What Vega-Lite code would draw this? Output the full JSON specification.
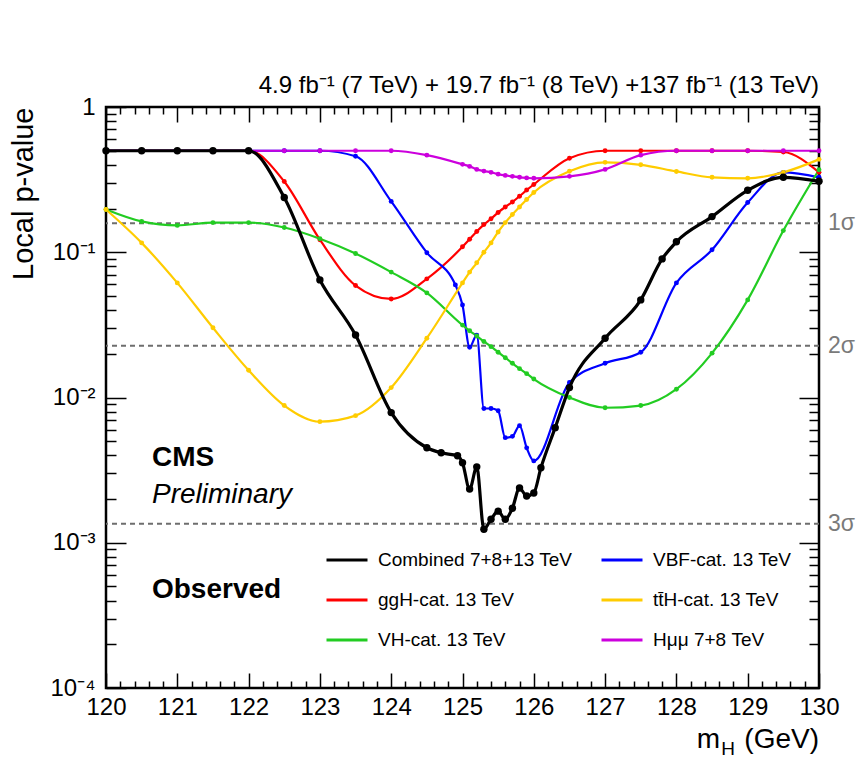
{
  "$schema": "https://vega.github.io/schema/vega-lite/v6.json",
  "width": 713,
  "height": 581,
  "autosize": "none",
  "padding": {"left": 106, "top": 107, "right": 37, "bottom": 70},
  "background": "white",
  "config": {
    "font": "Liberation Sans",
    "view": {"stroke": "black", "strokeWidth": 2.5},
    "axis": {"grid": false, "domain": false, "tickColor": "black", "tickWidth": 1.5, "labelColor": "black", "titleColor": "black", "labelFlush": false, "labelOverlap": false}
  },
  "title": {
    "text": "4.9 fb⁻¹ (7 TeV) + 19.7 fb⁻¹ (8 TeV) +137 fb⁻¹ (13 TeV)",
    "anchor": "end",
    "frame": "group",
    "orient": "top",
    "offset": -3,
    "fontSize": 24,
    "fontWeight": "normal",
    "color": "black"
  },
  "datasets": {
    "curves": [
      {"s": "Combined 7+8+13 TeV", "m": 120.0, "p": 0.5},
      {"s": "Combined 7+8+13 TeV", "m": 120.5, "p": 0.5},
      {"s": "Combined 7+8+13 TeV", "m": 121.0, "p": 0.5},
      {"s": "Combined 7+8+13 TeV", "m": 121.5, "p": 0.5},
      {"s": "Combined 7+8+13 TeV", "m": 122.0, "p": 0.5},
      {"s": "Combined 7+8+13 TeV", "m": 122.5, "p": 0.238},
      {"s": "Combined 7+8+13 TeV", "m": 123.0, "p": 0.0645},
      {"s": "Combined 7+8+13 TeV", "m": 123.5, "p": 0.0269},
      {"s": "Combined 7+8+13 TeV", "m": 124.0, "p": 0.00787},
      {"s": "Combined 7+8+13 TeV", "m": 124.5, "p": 0.00451},
      {"s": "Combined 7+8+13 TeV", "m": 124.7, "p": 0.00416},
      {"s": "Combined 7+8+13 TeV", "m": 124.93, "p": 0.00397},
      {"s": "Combined 7+8+13 TeV", "m": 125.0, "p": 0.00355},
      {"s": "Combined 7+8+13 TeV", "m": 125.1, "p": 0.00234},
      {"s": "Combined 7+8+13 TeV", "m": 125.2, "p": 0.00333},
      {"s": "Combined 7+8+13 TeV", "m": 125.3, "p": 0.00124},
      {"s": "Combined 7+8+13 TeV", "m": 125.4, "p": 0.00145},
      {"s": "Combined 7+8+13 TeV", "m": 125.5, "p": 0.00165},
      {"s": "Combined 7+8+13 TeV", "m": 125.6, "p": 0.00145},
      {"s": "Combined 7+8+13 TeV", "m": 125.7, "p": 0.00173},
      {"s": "Combined 7+8+13 TeV", "m": 125.8, "p": 0.00238},
      {"s": "Combined 7+8+13 TeV", "m": 125.9, "p": 0.0021},
      {"s": "Combined 7+8+13 TeV", "m": 126.0, "p": 0.0022},
      {"s": "Combined 7+8+13 TeV", "m": 126.1, "p": 0.00328},
      {"s": "Combined 7+8+13 TeV", "m": 126.3, "p": 0.0062},
      {"s": "Combined 7+8+13 TeV", "m": 126.5, "p": 0.0117},
      {"s": "Combined 7+8+13 TeV", "m": 127.0, "p": 0.0256},
      {"s": "Combined 7+8+13 TeV", "m": 127.5, "p": 0.047},
      {"s": "Combined 7+8+13 TeV", "m": 127.8, "p": 0.09},
      {"s": "Combined 7+8+13 TeV", "m": 128.0, "p": 0.118},
      {"s": "Combined 7+8+13 TeV", "m": 128.5, "p": 0.176},
      {"s": "Combined 7+8+13 TeV", "m": 129.0, "p": 0.267},
      {"s": "Combined 7+8+13 TeV", "m": 129.5, "p": 0.328},
      {"s": "Combined 7+8+13 TeV", "m": 130.0, "p": 0.308},

      {"s": "ggH-cat. 13 TeV", "m": 120.0, "p": 0.5},
      {"s": "ggH-cat. 13 TeV", "m": 120.5, "p": 0.5},
      {"s": "ggH-cat. 13 TeV", "m": 121.0, "p": 0.5},
      {"s": "ggH-cat. 13 TeV", "m": 121.5, "p": 0.5},
      {"s": "ggH-cat. 13 TeV", "m": 122.0, "p": 0.5},
      {"s": "ggH-cat. 13 TeV", "m": 122.5, "p": 0.307},
      {"s": "ggH-cat. 13 TeV", "m": 123.0, "p": 0.122},
      {"s": "ggH-cat. 13 TeV", "m": 123.5, "p": 0.059},
      {"s": "ggH-cat. 13 TeV", "m": 124.0, "p": 0.0477},
      {"s": "ggH-cat. 13 TeV", "m": 124.5, "p": 0.0656},
      {"s": "ggH-cat. 13 TeV", "m": 125.0, "p": 0.109},
      {"s": "ggH-cat. 13 TeV", "m": 125.1, "p": 0.123},
      {"s": "ggH-cat. 13 TeV", "m": 125.2, "p": 0.139},
      {"s": "ggH-cat. 13 TeV", "m": 125.3, "p": 0.155},
      {"s": "ggH-cat. 13 TeV", "m": 125.4, "p": 0.17},
      {"s": "ggH-cat. 13 TeV", "m": 125.5, "p": 0.188},
      {"s": "ggH-cat. 13 TeV", "m": 125.6, "p": 0.205},
      {"s": "ggH-cat. 13 TeV", "m": 125.7, "p": 0.222},
      {"s": "ggH-cat. 13 TeV", "m": 125.8, "p": 0.243},
      {"s": "ggH-cat. 13 TeV", "m": 125.9, "p": 0.268},
      {"s": "ggH-cat. 13 TeV", "m": 126.0, "p": 0.293},
      {"s": "ggH-cat. 13 TeV", "m": 126.5, "p": 0.444},
      {"s": "ggH-cat. 13 TeV", "m": 127.0, "p": 0.5},
      {"s": "ggH-cat. 13 TeV", "m": 127.5, "p": 0.5},
      {"s": "ggH-cat. 13 TeV", "m": 128.0, "p": 0.5},
      {"s": "ggH-cat. 13 TeV", "m": 128.5, "p": 0.5},
      {"s": "ggH-cat. 13 TeV", "m": 129.0, "p": 0.5},
      {"s": "ggH-cat. 13 TeV", "m": 129.5, "p": 0.49},
      {"s": "ggH-cat. 13 TeV", "m": 130.0, "p": 0.355},

      {"s": "VBF-cat. 13 TeV", "m": 120.0, "p": 0.5},
      {"s": "VBF-cat. 13 TeV", "m": 120.5, "p": 0.5},
      {"s": "VBF-cat. 13 TeV", "m": 121.0, "p": 0.5},
      {"s": "VBF-cat. 13 TeV", "m": 121.5, "p": 0.5},
      {"s": "VBF-cat. 13 TeV", "m": 122.0, "p": 0.5},
      {"s": "VBF-cat. 13 TeV", "m": 122.5, "p": 0.5},
      {"s": "VBF-cat. 13 TeV", "m": 123.0, "p": 0.5},
      {"s": "VBF-cat. 13 TeV", "m": 123.5, "p": 0.458},
      {"s": "VBF-cat. 13 TeV", "m": 124.0, "p": 0.224},
      {"s": "VBF-cat. 13 TeV", "m": 124.5, "p": 0.0993},
      {"s": "VBF-cat. 13 TeV", "m": 124.9, "p": 0.0596},
      {"s": "VBF-cat. 13 TeV", "m": 125.0, "p": 0.0433},
      {"s": "VBF-cat. 13 TeV", "m": 125.1, "p": 0.0222},
      {"s": "VBF-cat. 13 TeV", "m": 125.2, "p": 0.0269},
      {"s": "VBF-cat. 13 TeV", "m": 125.3, "p": 0.0084},
      {"s": "VBF-cat. 13 TeV", "m": 125.4, "p": 0.0084},
      {"s": "VBF-cat. 13 TeV", "m": 125.5, "p": 0.0081},
      {"s": "VBF-cat. 13 TeV", "m": 125.6, "p": 0.00529},
      {"s": "VBF-cat. 13 TeV", "m": 125.7, "p": 0.0054},
      {"s": "VBF-cat. 13 TeV", "m": 125.8, "p": 0.0064},
      {"s": "VBF-cat. 13 TeV", "m": 125.9, "p": 0.0045},
      {"s": "VBF-cat. 13 TeV", "m": 126.0, "p": 0.00366},
      {"s": "VBF-cat. 13 TeV", "m": 126.5, "p": 0.0127},
      {"s": "VBF-cat. 13 TeV", "m": 127.0, "p": 0.0172},
      {"s": "VBF-cat. 13 TeV", "m": 127.5, "p": 0.0205},
      {"s": "VBF-cat. 13 TeV", "m": 128.0, "p": 0.0615},
      {"s": "VBF-cat. 13 TeV", "m": 128.5, "p": 0.104},
      {"s": "VBF-cat. 13 TeV", "m": 129.0, "p": 0.22},
      {"s": "VBF-cat. 13 TeV", "m": 129.5, "p": 0.355},
      {"s": "VBF-cat. 13 TeV", "m": 130.0, "p": 0.328},

      {"s": "VH-cat. 13 TeV", "m": 120.0, "p": 0.197},
      {"s": "VH-cat. 13 TeV", "m": 120.5, "p": 0.163},
      {"s": "VH-cat. 13 TeV", "m": 121.0, "p": 0.153},
      {"s": "VH-cat. 13 TeV", "m": 121.5, "p": 0.16},
      {"s": "VH-cat. 13 TeV", "m": 122.0, "p": 0.16},
      {"s": "VH-cat. 13 TeV", "m": 122.5, "p": 0.148},
      {"s": "VH-cat. 13 TeV", "m": 123.0, "p": 0.124},
      {"s": "VH-cat. 13 TeV", "m": 123.5, "p": 0.098},
      {"s": "VH-cat. 13 TeV", "m": 124.0, "p": 0.073},
      {"s": "VH-cat. 13 TeV", "m": 124.5, "p": 0.0525},
      {"s": "VH-cat. 13 TeV", "m": 125.0, "p": 0.0315},
      {"s": "VH-cat. 13 TeV", "m": 125.1, "p": 0.0288},
      {"s": "VH-cat. 13 TeV", "m": 125.2, "p": 0.0265},
      {"s": "VH-cat. 13 TeV", "m": 125.3, "p": 0.0243},
      {"s": "VH-cat. 13 TeV", "m": 125.4, "p": 0.0224},
      {"s": "VH-cat. 13 TeV", "m": 125.5, "p": 0.0205},
      {"s": "VH-cat. 13 TeV", "m": 125.6, "p": 0.0188},
      {"s": "VH-cat. 13 TeV", "m": 125.7, "p": 0.0172},
      {"s": "VH-cat. 13 TeV", "m": 125.8, "p": 0.0158},
      {"s": "VH-cat. 13 TeV", "m": 125.9, "p": 0.0146},
      {"s": "VH-cat. 13 TeV", "m": 126.0, "p": 0.0134},
      {"s": "VH-cat. 13 TeV", "m": 126.5, "p": 0.01},
      {"s": "VH-cat. 13 TeV", "m": 127.0, "p": 0.0085},
      {"s": "VH-cat. 13 TeV", "m": 127.5, "p": 0.0088},
      {"s": "VH-cat. 13 TeV", "m": 128.0, "p": 0.0114},
      {"s": "VH-cat. 13 TeV", "m": 128.5, "p": 0.0202},
      {"s": "VH-cat. 13 TeV", "m": 129.0, "p": 0.047},
      {"s": "VH-cat. 13 TeV", "m": 129.5, "p": 0.141},
      {"s": "VH-cat. 13 TeV", "m": 130.0, "p": 0.37},

      {"s": "tt̄H-cat. 13 TeV", "m": 120.0, "p": 0.197},
      {"s": "tt̄H-cat. 13 TeV", "m": 120.5, "p": 0.116},
      {"s": "tt̄H-cat. 13 TeV", "m": 121.0, "p": 0.0615},
      {"s": "tt̄H-cat. 13 TeV", "m": 121.5, "p": 0.0302},
      {"s": "tt̄H-cat. 13 TeV", "m": 122.0, "p": 0.0154},
      {"s": "tt̄H-cat. 13 TeV", "m": 122.5, "p": 0.0088},
      {"s": "tt̄H-cat. 13 TeV", "m": 123.0, "p": 0.00682},
      {"s": "tt̄H-cat. 13 TeV", "m": 123.5, "p": 0.0075},
      {"s": "tt̄H-cat. 13 TeV", "m": 124.0, "p": 0.0117},
      {"s": "tt̄H-cat. 13 TeV", "m": 124.5, "p": 0.0256},
      {"s": "tt̄H-cat. 13 TeV", "m": 125.0, "p": 0.0615},
      {"s": "tt̄H-cat. 13 TeV", "m": 125.1, "p": 0.073},
      {"s": "tt̄H-cat. 13 TeV", "m": 125.2, "p": 0.0846},
      {"s": "tt̄H-cat. 13 TeV", "m": 125.3, "p": 0.1},
      {"s": "tt̄H-cat. 13 TeV", "m": 125.4, "p": 0.116},
      {"s": "tt̄H-cat. 13 TeV", "m": 125.5, "p": 0.138},
      {"s": "tt̄H-cat. 13 TeV", "m": 125.6, "p": 0.16},
      {"s": "tt̄H-cat. 13 TeV", "m": 125.7, "p": 0.182},
      {"s": "tt̄H-cat. 13 TeV", "m": 125.8, "p": 0.205},
      {"s": "tt̄H-cat. 13 TeV", "m": 125.9, "p": 0.231},
      {"s": "tt̄H-cat. 13 TeV", "m": 126.0, "p": 0.258},
      {"s": "tt̄H-cat. 13 TeV", "m": 126.5, "p": 0.361},
      {"s": "tt̄H-cat. 13 TeV", "m": 127.0, "p": 0.416},
      {"s": "tt̄H-cat. 13 TeV", "m": 127.5, "p": 0.4},
      {"s": "tt̄H-cat. 13 TeV", "m": 128.0, "p": 0.36},
      {"s": "tt̄H-cat. 13 TeV", "m": 128.5, "p": 0.328},
      {"s": "tt̄H-cat. 13 TeV", "m": 129.0, "p": 0.323},
      {"s": "tt̄H-cat. 13 TeV", "m": 129.5, "p": 0.355},
      {"s": "tt̄H-cat. 13 TeV", "m": 130.0, "p": 0.436},

      {"s": "Hμμ 7+8 TeV", "m": 120.0, "p": 0.5},
      {"s": "Hμμ 7+8 TeV", "m": 120.5, "p": 0.5},
      {"s": "Hμμ 7+8 TeV", "m": 121.0, "p": 0.5},
      {"s": "Hμμ 7+8 TeV", "m": 121.5, "p": 0.5},
      {"s": "Hμμ 7+8 TeV", "m": 122.0, "p": 0.5},
      {"s": "Hμμ 7+8 TeV", "m": 122.5, "p": 0.5},
      {"s": "Hμμ 7+8 TeV", "m": 123.0, "p": 0.5},
      {"s": "Hμμ 7+8 TeV", "m": 123.5, "p": 0.5},
      {"s": "Hμμ 7+8 TeV", "m": 124.0, "p": 0.5},
      {"s": "Hμμ 7+8 TeV", "m": 124.5, "p": 0.466},
      {"s": "Hμμ 7+8 TeV", "m": 125.0, "p": 0.403},
      {"s": "Hμμ 7+8 TeV", "m": 125.1, "p": 0.39},
      {"s": "Hμμ 7+8 TeV", "m": 125.2, "p": 0.372},
      {"s": "Hμμ 7+8 TeV", "m": 125.3, "p": 0.362},
      {"s": "Hμμ 7+8 TeV", "m": 125.4, "p": 0.355},
      {"s": "Hμμ 7+8 TeV", "m": 125.5, "p": 0.345},
      {"s": "Hμμ 7+8 TeV", "m": 125.6, "p": 0.338},
      {"s": "Hμμ 7+8 TeV", "m": 125.7, "p": 0.333},
      {"s": "Hμμ 7+8 TeV", "m": 125.8, "p": 0.328},
      {"s": "Hμμ 7+8 TeV", "m": 125.9, "p": 0.325},
      {"s": "Hμμ 7+8 TeV", "m": 126.0, "p": 0.323},
      {"s": "Hμμ 7+8 TeV", "m": 126.5, "p": 0.333},
      {"s": "Hμμ 7+8 TeV", "m": 127.0, "p": 0.372},
      {"s": "Hμμ 7+8 TeV", "m": 127.5, "p": 0.466},
      {"s": "Hμμ 7+8 TeV", "m": 128.0, "p": 0.5},
      {"s": "Hμμ 7+8 TeV", "m": 128.5, "p": 0.5},
      {"s": "Hμμ 7+8 TeV", "m": 129.0, "p": 0.5},
      {"s": "Hμμ 7+8 TeV", "m": 129.5, "p": 0.5},
      {"s": "Hμμ 7+8 TeV", "m": 130.0, "p": 0.5}
    ],
    "sigma": [
      {"label": "1σ", "p": 0.158655},
      {"label": "2σ", "p": 0.02275},
      {"label": "3σ", "p": 0.0013499}
    ]
  },
  "layer": [
    {
      "data": {"name": "sigma"},
      "mark": {"type": "rule", "color": "#6e6e6e", "strokeWidth": 2, "strokeDash": [5, 4]},
      "encoding": {
        "y": {"field": "p", "type": "quantitative", "scale": {"type": "log", "domain": [0.0001, 1], "nice": false}, "axis": null}
      }
    },
    {
      "data": {"name": "sigma"},
      "mark": {"type": "text", "align": "left", "baseline": "middle", "dx": 9, "fontSize": 23, "color": "#7a7a7a"},
      "encoding": {
        "x": {"datum": 130, "type": "quantitative", "scale": {"domain": [120, 130], "nice": false, "zero": false}, "axis": null},
        "y": {"field": "p", "type": "quantitative", "scale": {"type": "log", "domain": [0.0001, 1], "nice": false}, "axis": null},
        "text": {"field": "label"}
      }
    },
    {
      "data": {"name": "curves"},
      "transform": [{"filter": "datum.s !== 'Combined 7+8+13 TeV'"}],
      "mark": {"type": "line", "interpolate": "monotone", "strokeWidth": 2.2},
      "encoding": {
        "x": {"field": "m", "type": "quantitative", "scale": {"domain": [120, 130], "nice": false, "zero": false},
          "axis": {"orient": "bottom", "values": [120, 121, 122, 123, 124, 125, 126, 127, 128, 129, 130], "tickSize": -15, "labelFontSize": 24, "labelPadding": 22, "format": "d", "title": null}},
        "y": {"field": "p", "type": "quantitative", "scale": {"type": "log", "domain": [0.0001, 1], "nice": false},
          "axis": {"orient": "left", "values": [0.0001, 0.001, 0.01, 0.1, 1], "tickSize": -20, "labelFontSize": 24, "labelPadding": 31,
            "labelExpr": "datum.value >= 0.5 ? '1' : datum.value >= 0.05 ? '10⁻¹' : datum.value >= 0.005 ? '10⁻²' : datum.value >= 0.0005 ? '10⁻³' : '10⁻⁴'",
            "title": "Local p-value", "titleFontSize": 29, "titleFontWeight": "normal", "titleAnchor": "end", "titlePadding": 11}},
        "color": {"field": "s", "type": "nominal",
          "scale": {"domain": ["Combined 7+8+13 TeV", "ggH-cat. 13 TeV", "VH-cat. 13 TeV", "VBF-cat. 13 TeV", "tt̄H-cat. 13 TeV", "Hμμ 7+8 TeV"],
                    "range": ["#000000", "#ff0000", "#22cc22", "#0000ff", "#ffcc00", "#cc00dd"]},
          "legend": {"orient": "none", "legendX": 219, "legendY": 431, "columns": 2, "title": null, "symbolType": "stroke", "symbolSize": 1681, "symbolStrokeWidth": 3, "labelFontSize": 19, "labelLimit": 400, "labelOffset": 9, "columnPadding": 22, "rowPadding": 8, "labelColor": "black"}},
        "detail": {"field": "s"}
      }
    },
    {
      "data": {"name": "curves"},
      "transform": [{"filter": "datum.s !== 'Combined 7+8+13 TeV'"}],
      "mark": {"type": "point", "filled": true, "size": 24, "opacity": 1},
      "encoding": {
        "x": {"field": "m", "type": "quantitative", "scale": {"domain": [120, 130], "nice": false, "zero": false},
          "axis": {"orient": "bottom", "values": [120.2, 120.4, 120.6, 120.8, 121.2, 121.4, 121.6, 121.8, 122.2, 122.4, 122.6, 122.8, 123.2, 123.4, 123.6, 123.8, 124.2, 124.4, 124.6, 124.8, 125.2, 125.4, 125.6, 125.8, 126.2, 126.4, 126.6, 126.8, 127.2, 127.4, 127.6, 127.8, 128.2, 128.4, 128.6, 128.8, 129.2, 129.4, 129.6, 129.8], "tickSize": -7, "labels": false, "title": null}},
        "y": {"field": "p", "type": "quantitative", "scale": {"type": "log", "domain": [0.0001, 1], "nice": false},
          "axis": {"orient": "left", "values": [0.0002, 0.0003, 0.0004, 0.0005, 0.0006, 0.0007, 0.0008, 0.0009, 0.002, 0.003, 0.004, 0.005, 0.006, 0.007, 0.008, 0.009, 0.02, 0.03, 0.04, 0.05, 0.06, 0.07, 0.08, 0.09, 0.2, 0.3, 0.4, 0.5, 0.6, 0.7, 0.8, 0.9], "tickSize": -10, "labels": false, "title": null}},
        "color": {"field": "s", "type": "nominal"}
      }
    },
    {
      "data": {"name": "curves"},
      "transform": [{"filter": "datum.s === 'Combined 7+8+13 TeV'"}],
      "mark": {"type": "line", "interpolate": "monotone", "strokeWidth": 3.2},
      "encoding": {
        "x": {"field": "m", "type": "quantitative", "scale": {"domain": [120, 130], "nice": false, "zero": false},
          "axis": {"orient": "top", "values": [120, 121, 122, 123, 124, 125, 126, 127, 128, 129, 130], "tickSize": -15, "labels": false, "title": null}},
        "y": {"field": "p", "type": "quantitative", "scale": {"type": "log", "domain": [0.0001, 1], "nice": false},
          "axis": {"orient": "right", "values": [0.0001, 0.001, 0.01, 0.1, 1], "tickSize": -20, "labels": false, "title": null}},
        "color": {"field": "s", "type": "nominal"}
      }
    },
    {
      "data": {"name": "curves"},
      "transform": [{"filter": "datum.s === 'Combined 7+8+13 TeV'"}],
      "mark": {"type": "point", "filled": true, "size": 55, "opacity": 1},
      "encoding": {
        "x": {"field": "m", "type": "quantitative", "scale": {"domain": [120, 130], "nice": false, "zero": false},
          "axis": {"orient": "top", "values": [120.2, 120.4, 120.6, 120.8, 121.2, 121.4, 121.6, 121.8, 122.2, 122.4, 122.6, 122.8, 123.2, 123.4, 123.6, 123.8, 124.2, 124.4, 124.6, 124.8, 125.2, 125.4, 125.6, 125.8, 126.2, 126.4, 126.6, 126.8, 127.2, 127.4, 127.6, 127.8, 128.2, 128.4, 128.6, 128.8, 129.2, 129.4, 129.6, 129.8], "tickSize": -7, "labels": false, "title": null}},
        "y": {"field": "p", "type": "quantitative", "scale": {"type": "log", "domain": [0.0001, 1], "nice": false},
          "axis": {"orient": "right", "values": [0.0002, 0.0003, 0.0004, 0.0005, 0.0006, 0.0007, 0.0008, 0.0009, 0.002, 0.003, 0.004, 0.005, 0.006, 0.007, 0.008, 0.009, 0.02, 0.03, 0.04, 0.05, 0.06, 0.07, 0.08, 0.09, 0.2, 0.3, 0.4, 0.5, 0.6, 0.7, 0.8, 0.9], "tickSize": -10, "labels": false, "title": null}},
        "color": {"field": "s", "type": "nominal"}
      }
    },
    {
      "data": {"values": [{}]},
      "mark": {"type": "text", "text": "CMS", "align": "left", "baseline": "middle", "fontSize": 28, "fontWeight": "bold", "color": "black"},
      "encoding": {
        "x": {"datum": 120.645, "type": "quantitative", "scale": {"domain": [120, 130], "nice": false, "zero": false}, "axis": null},
        "y": {"datum": 0.00383, "type": "quantitative", "scale": {"type": "log", "domain": [0.0001, 1], "nice": false}, "axis": null}
      }
    },
    {
      "data": {"values": [{}]},
      "mark": {"type": "text", "text": "Preliminary", "align": "left", "baseline": "middle", "fontSize": 28, "fontStyle": "italic", "color": "black"},
      "encoding": {
        "x": {"datum": 120.645, "type": "quantitative", "scale": {"domain": [120, 130], "nice": false, "zero": false}, "axis": null},
        "y": {"datum": 0.00213, "type": "quantitative", "scale": {"type": "log", "domain": [0.0001, 1], "nice": false}, "axis": null}
      }
    },
    {
      "data": {"values": [{}]},
      "mark": {"type": "text", "text": "Observed", "align": "left", "baseline": "middle", "fontSize": 28, "fontWeight": "bold", "color": "black"},
      "encoding": {
        "x": {"datum": 120.645, "type": "quantitative", "scale": {"domain": [120, 130], "nice": false, "zero": false}, "axis": null},
        "y": {"datum": 0.000473, "type": "quantitative", "scale": {"type": "log", "domain": [0.0001, 1], "nice": false}, "axis": null}
      }
    },
    {
      "data": {"values": [{}]},
      "mark": {"type": "text", "text": "(GeV)", "align": "right", "baseline": "alphabetic", "fontSize": 28, "color": "black"},
      "encoding": {
        "x": {"datum": 130, "type": "quantitative", "scale": {"domain": [120, 130], "nice": false, "zero": false}, "axis": null},
        "y": {"datum": 0.0000386, "type": "quantitative", "scale": {"type": "log", "domain": [0.0001, 1], "nice": false}, "axis": null}
      }
    },
    {
      "data": {"values": [{}]},
      "mark": {"type": "text", "text": "H", "align": "right", "baseline": "alphabetic", "fontSize": 19, "dx": -84, "dy": 7, "color": "black"},
      "encoding": {
        "x": {"datum": 130, "type": "quantitative", "scale": {"domain": [120, 130], "nice": false, "zero": false}, "axis": null},
        "y": {"datum": 0.0000386, "type": "quantitative", "scale": {"type": "log", "domain": [0.0001, 1], "nice": false}, "axis": null}
      }
    },
    {
      "data": {"values": [{}]},
      "mark": {"type": "text", "text": "m", "align": "right", "baseline": "alphabetic", "fontSize": 28, "dx": -99, "color": "black"},
      "encoding": {
        "x": {"datum": 130, "type": "quantitative", "scale": {"domain": [120, 130], "nice": false, "zero": false}, "axis": null},
        "y": {"datum": 0.0000386, "type": "quantitative", "scale": {"type": "log", "domain": [0.0001, 1], "nice": false}, "axis": null}
      }
    }
  ],
  "resolve": {"axis": {"x": "independent", "y": "independent"}}
}
